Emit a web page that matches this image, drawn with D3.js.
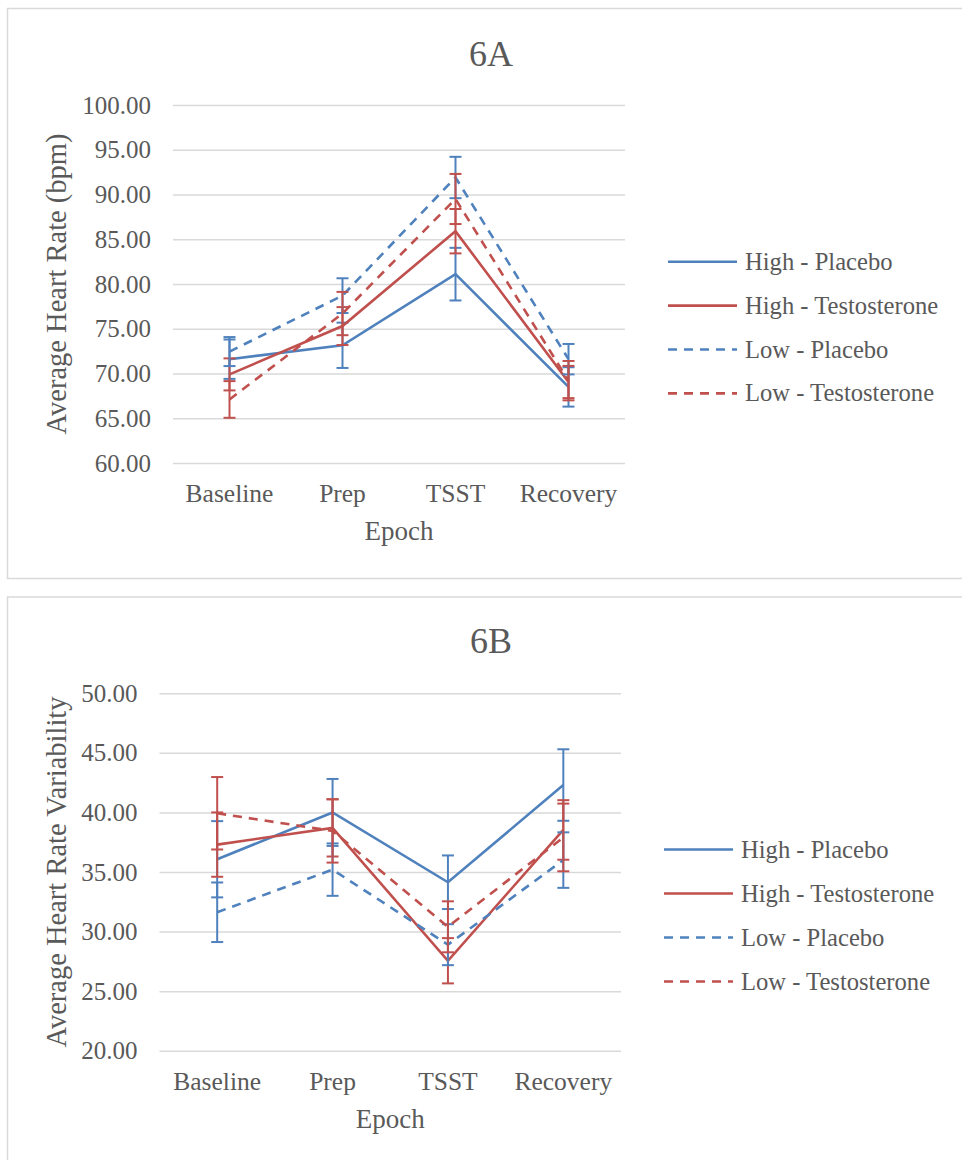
<!DOCTYPE html>
<html><head><meta charset="utf-8">
<script src="https://cdn.jsdelivr.net/npm/d3@7"></script>
<style>
html,body{margin:0;padding:0;background:#fff;}
svg{display:block;}
text{font-family:"Liberation Serif","Times New Roman",serif;fill:#595959;}
</style></head>
<body>
<svg id="chart" width="962" height="1160"></svg>
<script>
const epochs = ["Baseline","Prep","TSST","Recovery"];
const seriesNames = ["High - Placebo","High - Testosterone","Low - Placebo","Low - Testosterone"];
const seriesColors = ["#4F81BD","#C0504D","#4F81BD","#C0504D"];
const seriesDashed = [false,false,true,true];

// 6A: Average Heart Rate (bpm)
const hrHighPlacebo      = [71.6, 73.15, 81.1, 68.5];
const hrHighTestosterone = [69.9, 75.3, 85.9, 69.05];
const hrLowPlacebo       = [72.45, 78.7, 91.9, 71.6];
const hrLowTestosterone  = [67.1, 76.7, 89.5, 69.2];
const hrErrHighPlacebo      = [2.2, 2.53, 2.94, 2.2];
const hrErrHighTestosterone = [1.79, 2.12, 2.48, 1.8];
const hrErrLowPlacebo       = [1.62, 1.94, 2.31, 1.7];
const hrErrLowTestosterone  = [2.05, 2.42, 2.8, 2.2];
const hrTicks = [60,65,70,75,80,85,90,95,100];

// 6B: Average Heart Rate Variability
const hrvHighPlacebo      = [36.07, 40.0, 34.14, 42.3];
const hrvHighTestosterone = [37.3, 38.7, 27.55, 38.53];
const hrvLowPlacebo       = [31.62, 35.2, 28.9, 36.0];
const hrvLowTestosterone  = [39.93, 38.45, 30.4, 37.9];
const hrvErrHighPlacebo      = [3.2, 2.81, 2.25, 3.0];
const hrvErrHighTestosterone = [2.7, 2.4, 1.9, 2.5];
const hrvErrLowPlacebo       = [2.5, 2.2, 1.72, 2.33];
const hrvErrLowTestosterone  = [3.04, 2.66, 2.14, 2.84];
const hrvTicks = [20,25,30,35,40,45,50];

const svg = d3.select("#chart");

function drawChart(cfg){
  const g = svg.append("g");
  g.append("rect").attr("x",7.5).attr("y",cfg.boxY).attr("width",1000).attr("height",cfg.boxH)
    .attr("fill","#fff").attr("stroke","#d9d9d9").attr("stroke-width",1.5);

  const x = d3.scaleBand().domain(epochs).range([cfg.x0,cfg.x1]).padding(0);
  const y = d3.scaleLinear().domain([cfg.ticks[0],cfg.ticks[cfg.ticks.length-1]]).range([cfg.yBottom,cfg.yTop]);
  const cx = d => x(d)+x.bandwidth()/2;

  const ya = g.append("g").attr("transform",`translate(${cfg.x0},0)`)
    .call(d3.axisLeft(y).tickValues(cfg.ticks).tickFormat(d3.format(".2f"))
      .tickSize(-(cfg.x1-cfg.x0)).tickPadding(22));
  ya.select(".domain").remove();
  ya.selectAll("line").attr("stroke","#d9d9d9").attr("stroke-width",1.5);
  ya.selectAll("text").attr("font-size",25).style("fill","#595959")
    .attr("font-family","Liberation Serif, serif");

  const xa = g.append("g").attr("transform",`translate(0,${cfg.yBottom})`)
    .call(d3.axisBottom(x).tickSize(0).tickPadding(21));
  xa.select(".domain").remove();
  xa.selectAll("text").attr("font-size",25.5).style("fill","#595959")
    .attr("font-family","Liberation Serif, serif");

  g.append("text").attr("x",491).attr("y",cfg.titleY).attr("text-anchor","middle")
    .attr("font-size",36).text(cfg.title);
  g.append("text").attr("x",(cfg.x0+cfg.x1)/2).attr("y",cfg.yBottom+77).attr("text-anchor","middle")
    .attr("font-size",27).text("Epoch");
  g.append("text").attr("transform",`translate(66,${(cfg.yTop+cfg.yBottom)/2}) rotate(-90)`)
    .attr("text-anchor","middle").attr("font-size",28.5).text(cfg.yTitle);

  const line = d3.line().x((d,i)=>cx(epochs[i])).y(d=>y(d));
  cfg.series.forEach((s,k)=>{
    const sg = g.append("g");
    sg.append("path").datum(s).attr("d",line).attr("fill","none")
      .attr("stroke",seriesColors[k]).attr("stroke-width",2.6)
      .attr("stroke-dasharray",seriesDashed[k]?"9,7":null);
    const eb = sg.selectAll("g.eb").data(s.map((v,i)=>({v,e:cfg.errs[k][i],c:epochs[i]}))).join("g");
    eb.append("line").attr("x1",d=>cx(d.c)).attr("x2",d=>cx(d.c))
      .attr("y1",d=>y(d.v-d.e)).attr("y2",d=>y(d.v+d.e))
      .attr("stroke",seriesColors[k]).attr("stroke-width",2);
    [-1,1].forEach(sgn=>{
      eb.append("line").attr("x1",d=>cx(d.c)-6).attr("x2",d=>cx(d.c)+6)
        .attr("y1",d=>y(d.v+sgn*d.e)).attr("y2",d=>y(d.v+sgn*d.e))
        .attr("stroke",seriesColors[k]).attr("stroke-width",2);
    });
  });

  const lg = g.append("g");
  seriesNames.forEach((n,k)=>{
    const ry = cfg.legY + k*cfg.legStep;
    lg.append("line").attr("x1",cfg.legX).attr("x2",cfg.legX+69).attr("y1",ry).attr("y2",ry)
      .attr("stroke",seriesColors[k]).attr("stroke-width",2.6)
      .attr("stroke-dasharray",seriesDashed[k]?"9,7":null);
    lg.append("text").attr("x",cfg.legX+77).attr("y",ry+8).attr("font-size",24.6).text(n);
  });
}

drawChart({
  boxY:8.5, boxH:570, x0:173, x1:625, yTop:105, yBottom:463, ticks:hrTicks,
  title:"6A", titleY:66, yTitle:"Average Heart Rate (bpm)",
  series:[hrHighPlacebo,hrHighTestosterone,hrLowPlacebo,hrLowTestosterone],
  errs:[hrErrHighPlacebo,hrErrHighTestosterone,hrErrLowPlacebo,hrErrLowTestosterone],
  legX:668, legY:261.7, legStep:43.9
});
drawChart({
  boxY:597, boxH:600, x0:159.5, x1:621, yTop:693.3, yBottom:1050.7, ticks:hrvTicks,
  title:"6B", titleY:653, yTitle:"Average Heart Rate Variability",
  series:[hrvHighPlacebo,hrvHighTestosterone,hrvLowPlacebo,hrvLowTestosterone],
  errs:[hrvErrHighPlacebo,hrvErrHighTestosterone,hrvErrLowPlacebo,hrvErrLowTestosterone],
  legX:664, legY:849.5, legStep:44
});
</script>
</body></html>
